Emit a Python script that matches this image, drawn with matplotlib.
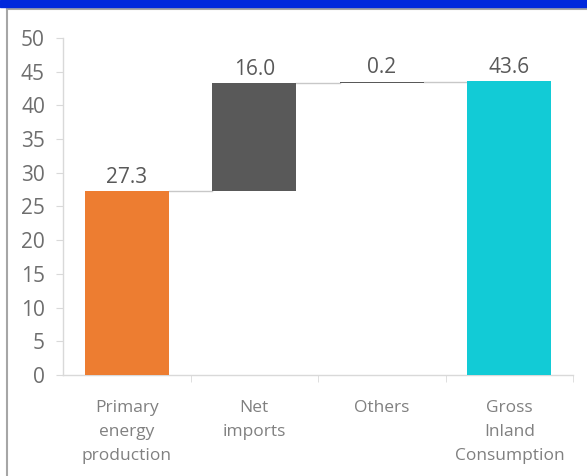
import matplotlib
matplotlib.use("Agg")
import matplotlib.pyplot as plt
from matplotlib.patches import Rectangle
from matplotlib.lines import Line2D

categories = ["Primary\nenergy\nproduction", "Net\nimports", "Others", "Gross\nInland\nConsumption"]
values = [27.3, 16.0, 0.2, 43.6]
labels = ["27.3", "16.0", "0.2", "43.6"]
is_total = [False, False, False, True]
colors = ["#ED7D31", "#595959", "#595959", "#12CBD6"]
yticks = [0, 5, 10, 15, 20, 25, 30, 35, 40, 45, 50]

plt.rcParams['font.family'] = ['Open Sans', 'DejaVu Sans']

fig = plt.figure(figsize=(5.87, 4.76), dpi=100)
fig.patch.set_facecolor("white")
ax = fig.add_axes([0.1073, 0.2122, 0.869, 0.708])

bottoms = []
run = 0.0
for v, t in zip(values, is_total):
    if t:
        bottoms.append(0.0)
        run = v
    else:
        bottoms.append(run)
        run += v

x = list(range(len(categories)))
width = 0.66
ax.bar(x, values, bottom=bottoms, width=width, color=colors, zorder=3)

# connectors
for i in range(len(values) - 1):
    top = bottoms[i] + values[i]
    ax.plot([x[i] + width / 2, x[i + 1] - width / 2], [top, top],
            color="#C8C8C8", lw=1.0, zorder=2)

for i, (b, v, lab) in enumerate(zip(bottoms, values, labels)):
    ax.text(x[i], b + v + 0.5, lab, ha="center", va="bottom",
            fontsize=15, color="#595959")

ax.set_xlim(-0.5, len(categories) - 0.5)
ax.set_ylim(0, 50)
ax.set_yticks(yticks)
ax.set_yticklabels([str(t) for t in yticks], fontsize=15, color="#6E6E6E")
ax.set_xticks(x)
ax.set_xticklabels(categories, fontsize=12.5, color="#808080", linespacing=1.65)
ax.tick_params(axis="x", length=0, pad=18)
ax.tick_params(axis="y", length=5, color="#D9D9D9", pad=8)
ax.set_xticks([0.5, 1.5, 2.5, 3.5], minor=True)
ax.tick_params(axis="x", which="minor", length=5, color="#D9D9D9")

for s in ["top", "right"]:
    ax.spines[s].set_visible(False)
for s in ["left", "bottom"]:
    ax.spines[s].set_color("#D9D9D9")
    ax.spines[s].set_linewidth(1.0)

# frame decorations
fig.patches.append(Rectangle((0, 1 - 7 / 476), 1, 7 / 476, transform=fig.transFigure,
                             color="#0028DC", zorder=10))
fig.lines.append(Line2D([7 / 587, 1], [1 - 9 / 476, 1 - 9 / 476], transform=fig.transFigure,
                        color="#A6A6A6", lw=1.5))
fig.lines.append(Line2D([7 / 587, 7 / 587], [0, 1 - 9 / 476], transform=fig.transFigure,
                        color="#A6A6A6", lw=1.5))

fig.savefig("out.png", dpi=100)
